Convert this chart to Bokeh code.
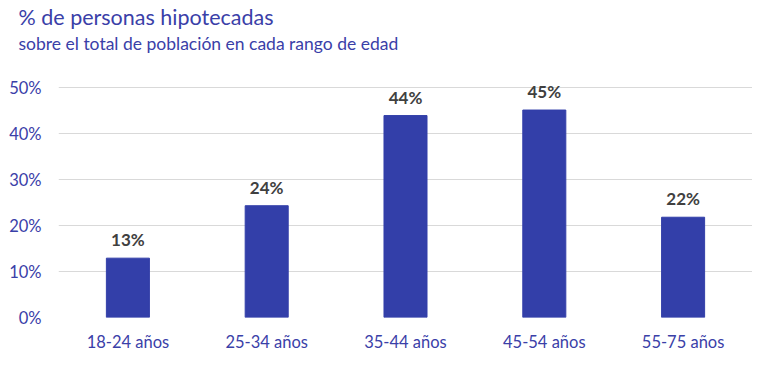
from bokeh.plotting import figure
from bokeh.models import FactorRange, Range1d, Title, ColumnDataSource, LabelSet, FixedTicker, CustomJSTickFormatter
from bokeh.core.properties import value
from bokeh.embed import file_html
from bokeh.resources import INLINE

categories = ["18-24 años", "25-34 años", "35-44 años", "45-54 años", "55-75 años"]
values = [12.9, 24.3, 43.9, 45.1, 21.8]
labels = ["13%", "24%", "44%", "45%", "22%"]
yticks = [0, 10, 20, 30, 40, 50]

FONT = "Lato"
BLUE = "#3a40a8"
BAR = "#333fa9"

src = ColumnDataSource(dict(cat=categories, val=values, lab=labels))

PX_PER_UNIT = 4.6
FH = 264
p = figure(frame_width=694, frame_height=FH, x_range=FactorRange(*categories, range_padding=0),
           y_range=Range1d(0, FH / PX_PER_UNIT), output_backend="svg", toolbar_location=None,
           min_border_left=58, min_border_right=0, min_border_bottom=30, min_border_top=49)
p.outline_line_color = None

p.vbar(x="cat", top="val", width=0.31, source=src, fill_color=BAR, line_color=BAR)

ls = LabelSet(x="cat", y="val", text="lab", source=src, text_align="center", text_baseline="alphabetic",
              y_offset=12, text_font=value(FONT), text_font_size="17px", text_font_style="bold",
              text_color="#404040")
p.add_layout(ls)

p.yaxis.ticker = FixedTicker(ticks=yticks)
p.yaxis.formatter = CustomJSTickFormatter(code="return tick + '%';")
for ax in (p.xaxis, p.yaxis):
    ax.axis_line_color = None
    ax.major_tick_line_color = None
    ax.minor_tick_line_color = None
    ax.major_tick_out = 0
    ax.major_tick_in = 0
    ax.minor_tick_out = 0
    ax.major_label_text_font = FONT
    ax.major_label_text_font_size = "16.5px"
    ax.major_label_text_color = BLUE
p.yaxis.major_label_standoff = 17
p.xaxis.major_label_standoff = 14
p.xgrid.grid_line_color = None
p.ygrid.grid_line_color = "#d9d9d9"
p.ygrid.grid_line_width = 1

sub = Title(text="sobre el total de población en cada rango de edad", align="left", offset=-40,
            text_font=FONT, text_font_size="17.5px", text_font_style="normal", text_color=BLUE,
            standoff=0)
main = Title(text="% de personas hipotecadas", align="left", offset=-40,
             text_font=FONT, text_font_size="21.5px", text_font_style="normal", text_color=BLUE,
             standoff=2)
p.add_layout(sub, "above")
p.add_layout(main, "above")

open("out.html", "w").write(file_html(p, INLINE))
